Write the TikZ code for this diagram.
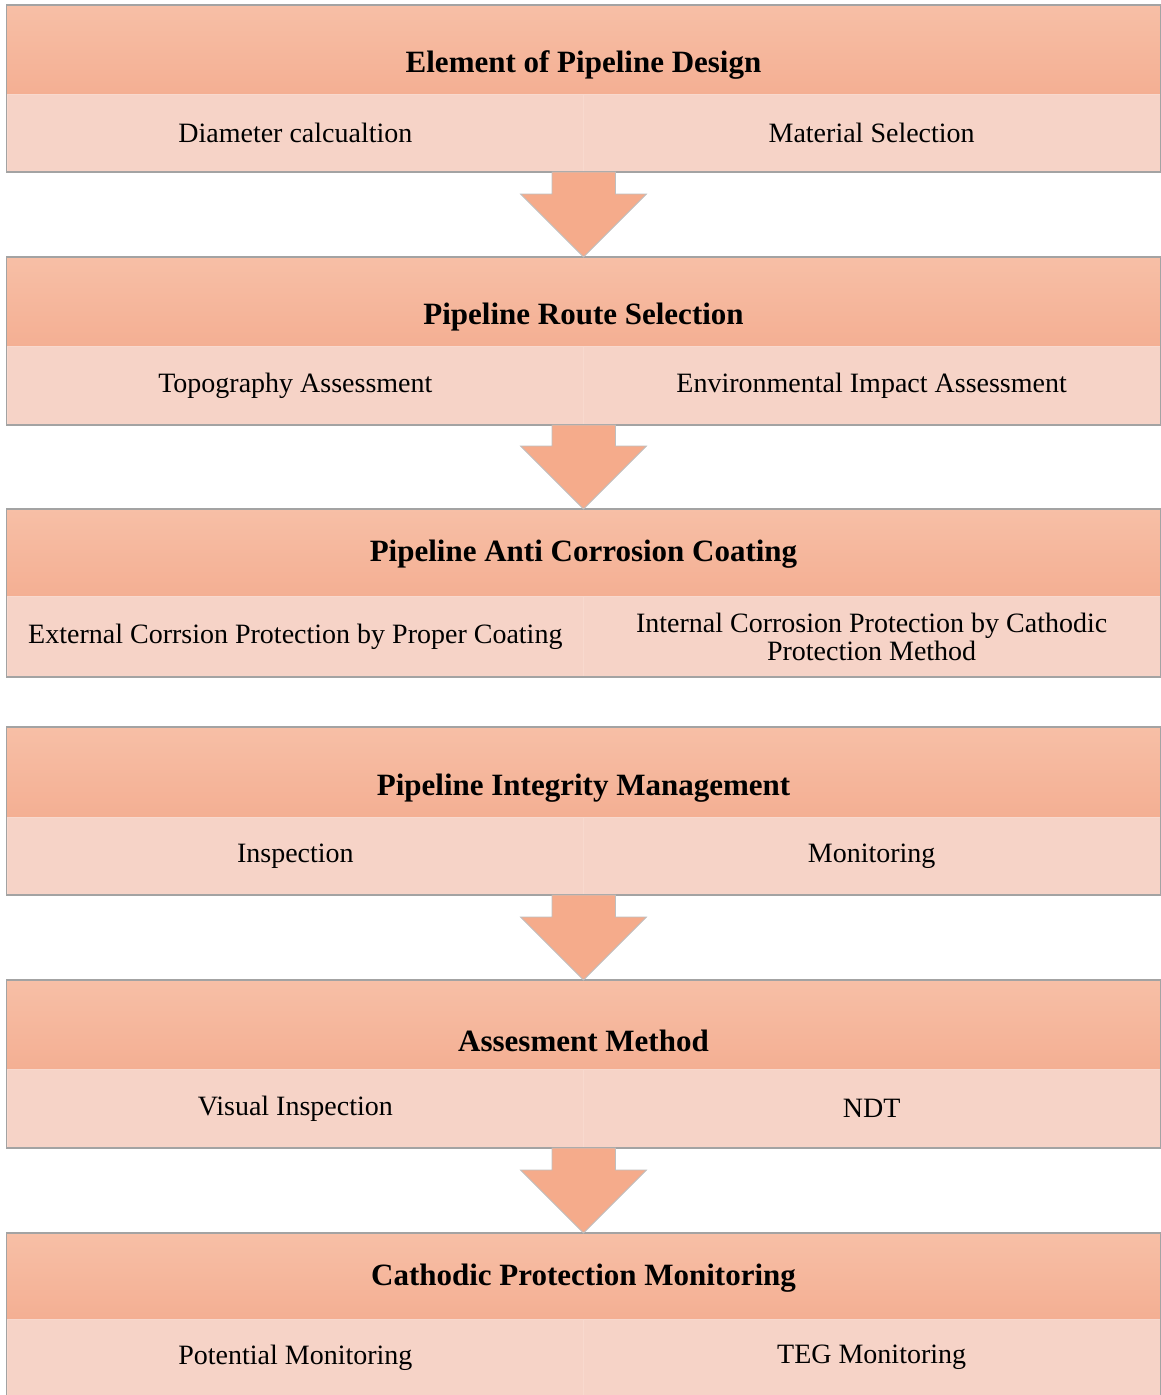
\documentclass[tikz,border=0pt]{standalone}
\usepackage{fontspec}
\setmainfont{Liberation Serif}
\usepackage{tikz}
\usetikzlibrary{calc,positioning}

\definecolor{headtop}{HTML}{F7BFA6}
\definecolor{headbot}{HTML}{F4AF93}
\definecolor{subfill}{HTML}{F6D3C7}
\definecolor{subline}{HTML}{F8D9CE}
\definecolor{arrowfill}{HTML}{F5AB8B}
\definecolor{framegray}{HTML}{A3A3A3}

\begin{document}
\begin{tikzpicture}[x=1pt, y=-1pt,
  head/.style={rectangle, minimum width=1153pt, minimum height=#1, inner sep=0pt,
    top color=headtop, bottom color=headbot},
  title/.style={font=\fontsize{31}{35}\selectfont\bfseries, inner sep=0pt},
  sub/.style={rectangle, minimum width=576.5pt, minimum height=#1, inner sep=0pt,
    fill=subfill, draw=subline, line width=0.6pt, align=center,
    font=\fontsize{28}{28}\selectfont},
  frame/.style={draw=framegray, line width=1.2pt},
  blockarrow/.style={fill=arrowfill, draw=framegray!70, line width=0.8pt}]
\useasboundingbox (0,0) rectangle (1161,1395);

% blocks: index / top / header height / sub height / title shift / title / left / right
\foreach \i/\y/\hh/\sh/\ts/\ttl/\lt/\rt in {
  1/5/89/77/15/{Element of Pipeline Design}/{Diameter calcualtion}/{Material Selection},
  2/257/89/78/15.5/{Pipeline Route Selection}/{Topography Assessment}/{Environmental Impact Assessment},
  3/509/87/80/1.5/{Pipeline Anti Corrosion Coating}/{External Corrsion Protection by Proper Coating}/{Internal Corrosion Protection by Cathodic\\Protection Method},
  4/727/90/77/16/{Pipeline Integrity Management}/{Inspection}/{Monitoring},
  5/980/89/78/16.5/{Assesment Method}/{Visual Inspection}/{NDT},
  6/1233/86/76/2/{Cathodic Protection Monitoring}/{Potential Monitoring}/{TEG Monitoring}} {
  \node[head=\hh pt, anchor=north] (h\i) at (583.5,\y) {};
  \node[title] (t\i) at ($(h\i.center)+(0,\ts)$) {\ttl};
  \node[sub=\sh pt, anchor=north west] (l\i) at (h\i.south west) {\lt};
  \node[sub=\sh pt, anchor=north east] (r\i) at (h\i.south east) {\rt};
  \draw[frame] (h\i.north west) rectangle (r\i.south east);
}

% arrows between blocks (none after the coating block)
\foreach \a/\b in {1/2, 2/3, 4/5, 5/6} {
  \draw[blockarrow] (h\b.north) -- ++(-63,-63) -- ++(31.5,0) |- (l\a.south east)
    -- ++(31.5,0) |- ($(h\b.north)+(63,-63)$) -- cycle;
}
\end{tikzpicture}
\end{document}
